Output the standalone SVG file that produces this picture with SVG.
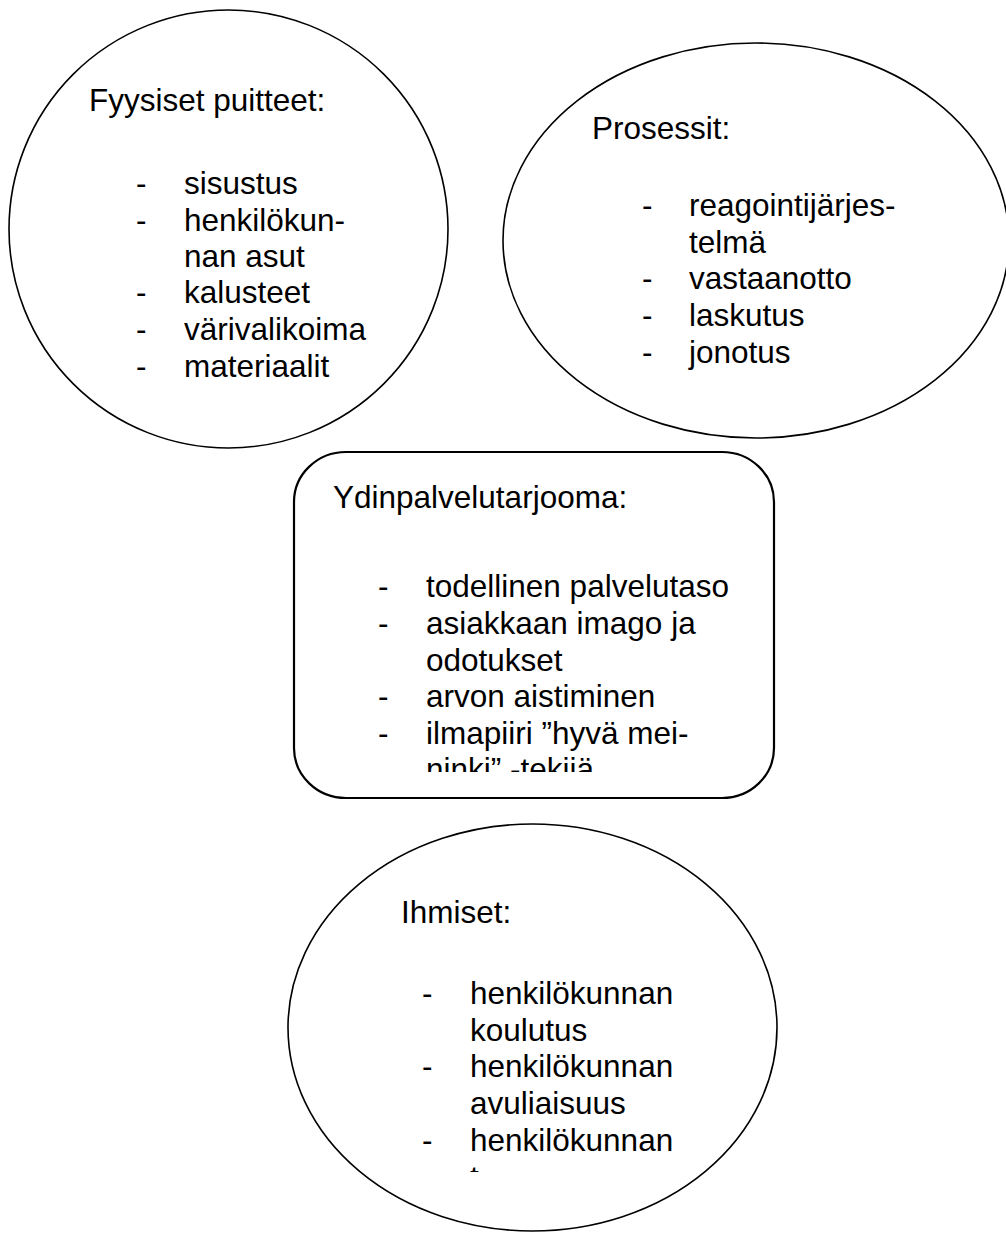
<svg xmlns="http://www.w3.org/2000/svg" width="1006" height="1233" viewBox="0 0 1006 1233">
<style>
.shape{fill:#fff;stroke:#000;stroke-width:1.6}
.box{fill:#fff;stroke:#000;stroke-width:2.2}
text{font-family:"Liberation Sans",Arial,sans-serif;font-size:31.5px;fill:#000}
</style>
<defs>
<clipPath id="clipBox"><rect x="300" y="460" width="470" height="312"/></clipPath>
<clipPath id="clipPeople"><rect x="300" y="830" width="470" height="342"/></clipPath>
</defs>
<rect width="1006" height="1233" fill="#fff"/>
<g id="connectors"></g>
<g id="fyysiset">
<ellipse class="shape" cx="228.5" cy="229" rx="219.5" ry="219"/>
<text x="89" y="111">Fyysiset puitteet:</text>
<text x="136" y="194">-</text><text x="184" y="194">sisustus</text>
<text x="136" y="231">-</text><text x="184" y="231">henkilökun-</text>
<text x="184" y="267">nan asut</text>
<text x="136" y="303">-</text><text x="184" y="303">kalusteet</text>
<text x="136" y="340">-</text><text x="184" y="340">värivalikoima</text>
<text x="136" y="377">-</text><text x="184" y="377">materiaalit</text>
</g>
<g id="prosessit">
<ellipse class="shape" cx="756" cy="240.5" rx="253" ry="197.5"/>
<text x="592" y="139">Prosessit:</text>
<text x="642" y="216">-</text><text x="689" y="216">reagointijärjes-</text>
<text x="689" y="253">telmä</text>
<text x="642" y="289">-</text><text x="689" y="289">vastaanotto</text>
<text x="642" y="326">-</text><text x="689" y="326">laskutus</text>
<text x="642" y="363">-</text><text x="689" y="363">jonotus</text>
</g>
<g id="ydinpalvelu">
<rect class="box" x="294" y="452" width="480" height="346" rx="52" ry="50"/>
<text x="333" y="508">Ydinpalvelutarjooma:</text>
<g clip-path="url(#clipBox)">
<text x="378" y="597">-</text><text x="426" y="597">todellinen palvelutaso</text>
<text x="378" y="634">-</text><text x="426" y="634">asiakkaan imago ja</text>
<text x="426" y="671">odotukset</text>
<text x="378" y="707">-</text><text x="426" y="707">arvon aistiminen</text>
<text x="378" y="744">-</text><text x="426" y="744">ilmapiiri ”hyvä mei-</text>
<text x="426" y="780">ninki” -tekijä</text>
</g>
</g>
<g id="ihmiset">
<ellipse class="shape" cx="532.5" cy="1027.5" rx="244.5" ry="203.5"/>
<text x="401" y="923">Ihmiset:</text>
<g clip-path="url(#clipPeople)">
<text x="422" y="1004">-</text><text x="470" y="1004">henkilökunnan</text>
<text x="470" y="1041">koulutus</text>
<text x="422" y="1077">-</text><text x="470" y="1077">henkilökunnan</text>
<text x="470" y="1114">avuliaisuus</text>
<text x="422" y="1151">-</text><text x="470" y="1151">henkilökunnan</text>
<text x="470" y="1188">t</text>
</g>
</g>
</svg>
